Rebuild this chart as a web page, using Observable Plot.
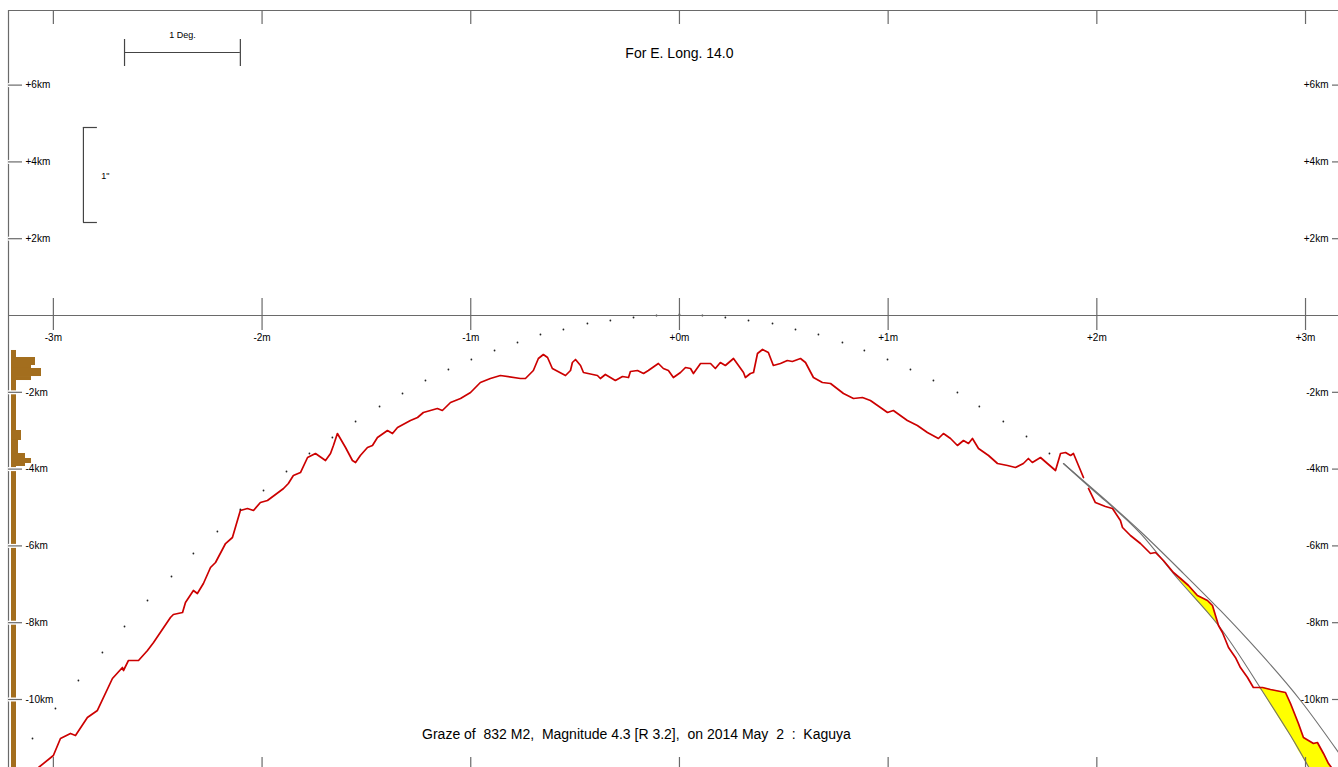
<!DOCTYPE html>
<html>
<head>
<meta charset="utf-8">
<script src="https://cdn.jsdelivr.net/npm/d3@7"></script>
<script src="https://cdn.jsdelivr.net/npm/@observablehq/plot@0.6"></script>
<style>
html, body { margin: 0; padding: 0; background: #fff; }
#chart { width: 1338px; height: 767px; overflow: hidden; }
#chart svg { display: block; }
</style>
</head>
<body>
<div id="chart"></div>
<script>
// ---- Data (x in minutes of arc from central meridian, y in km) ----
const xTicks = [-3, -2, -1, 0, 1, 2, 3];
const xTickLabels = ["-3m", "-2m", "-1m", "+0m", "+1m", "+2m", "+3m"];
const yTicks = [6, 4, 2, -2, -4, -6, -8, -10];
const yTickLabels = ["+6km", "+4km", "+2km", "-2km", "-4km", "-6km", "-8km", "-10km"];

const titleText = "For E. Long. 14.0";
const captionText = "Graze of  832 M2,  Magnitude 4.3 [R 3.2],  on 2014 May  2  :  Kaguya";

// limb profile (red), first segment
const profile1M = [-3.071,-3.000,-2.966,-2.918,-2.894,-2.837,-2.789,-2.717,-2.669,-2.664,
  -2.640,-2.592,-2.549,-2.520,-2.439,-2.425,-2.381,-2.367,-2.329,-2.310,
  -2.281,-2.247,-2.223,-2.175,-2.142,-2.104,-2.070,-2.041,-2.008,-1.974,
  -1.897,-1.874,-1.850,-1.816,-1.782,-1.744,-1.696,-1.672,-1.658,-1.639,
  -1.600,-1.567,-1.552,-1.529,-1.495,-1.471,-1.447,-1.399,-1.375,-1.351,
  -1.289,-1.255,-1.227,-1.160,-1.136,-1.097,-1.049,-1.001,-0.954,-0.906,
  -0.858,-0.762,-0.738,-0.700,-0.676,-0.652,-0.632,-0.609,-0.546,-0.522,
  -0.513,-0.498,-0.474,-0.460,-0.393,-0.379,-0.355,-0.307,-0.273,-0.244,
  -0.235,-0.201,-0.172,-0.149,-0.101,-0.077,-0.053,-0.029,0.005,0.029,
  0.053,0.067,0.101,0.149,0.172,0.196,0.220,0.259,0.283,0.307,
  0.316,0.340,0.355,0.374,0.398,0.426,0.450,0.484,0.517,0.541,
  0.580,0.604,0.642,0.685,0.724,0.786,0.834,0.877,0.915,0.963,
  0.997,1.025,1.092,1.140,1.188,1.241,1.265,1.299,1.332,1.361,
  1.385,1.404,1.433,1.481,1.524,1.572,1.610,1.648,1.672,1.691,
  1.730,1.763,1.802,1.826,1.850,1.874,1.888,1.936];
const profile1Km = [-11.771,-11.458,-11.016,-10.885,-10.938,-10.469,-10.286,-9.453,-9.167,-9.245,
  -8.984,-8.984,-8.724,-8.516,-7.865,-7.786,-7.734,-7.474,-7.161,-7.240,
  -6.979,-6.563,-6.432,-5.938,-5.781,-5.078,-5.026,-5.078,-4.870,-4.818,
  -4.505,-4.375,-4.167,-4.089,-3.698,-3.594,-3.776,-3.594,-3.385,-3.073,
  -3.438,-3.776,-3.828,-3.646,-3.438,-3.385,-3.177,-2.995,-3.073,-2.917,
  -2.734,-2.656,-2.526,-2.422,-2.474,-2.266,-2.161,-2.005,-1.745,-1.641,
  -1.563,-1.641,-1.641,-1.432,-1.120,-1.016,-1.094,-1.380,-1.563,-1.432,
  -1.224,-1.146,-1.302,-1.484,-1.563,-1.641,-1.536,-1.693,-1.589,-1.615,
  -1.458,-1.432,-1.510,-1.432,-1.250,-1.380,-1.432,-1.615,-1.484,-1.354,
  -1.380,-1.510,-1.250,-1.250,-1.380,-1.224,-1.302,-1.120,-1.302,-1.484,
  -1.615,-1.510,-1.484,-0.990,-0.885,-0.964,-1.302,-1.250,-1.172,-1.198,
  -1.120,-1.224,-1.615,-1.745,-1.771,-2.031,-2.161,-2.135,-2.214,-2.396,
  -2.526,-2.474,-2.734,-2.865,-3.047,-3.203,-3.073,-3.203,-3.385,-3.255,
  -3.333,-3.203,-3.464,-3.646,-3.854,-3.906,-3.958,-3.854,-3.724,-3.828,
  -3.698,-3.854,-4.036,-3.594,-3.568,-3.646,-3.594,-4.219];

// limb profile (red), second segment
const profile2M = [1.960,1.993,2.041,2.075,2.113,2.123,2.161,2.209,2.257,2.281,
  2.319,2.367,2.401,2.439,2.482,2.530,2.554,2.583,2.602,2.631,
  2.664,2.688,2.722,2.750,2.794,2.832,2.904,2.928,2.966,2.990,
  3.038,3.057,3.086,3.110,3.124];
const profile2Km = [-4.505,-4.870,-4.974,-5.026,-5.339,-5.521,-5.729,-5.938,-6.198,-6.172,
  -6.380,-6.693,-6.849,-7.031,-7.292,-7.422,-7.552,-8.073,-8.255,-8.646,
  -8.906,-9.167,-9.427,-9.688,-9.688,-9.740,-9.818,-10.104,-10.625,-10.990,
  -11.146,-11.120,-11.406,-11.667,-11.771];

// grey limb-correction arcs
const outerArcM = [1.840,2.017,2.209,2.401,2.592,2.784,2.976,3.158];
const outerArcKm = [-3.854,-4.688,-5.625,-6.641,-7.682,-8.802,-10.026,-11.380];
const innerArcM = [1.840,2.017,2.209,2.391,2.583,2.770,2.928,3.024];
const innerArcKm = [-3.854,-4.714,-5.677,-6.875,-8.073,-9.583,-10.938,-11.849];

// yellow zones between profile and inner arc
const yellowRegion = [1,1,1,1,1,1,1, 2,2,2,2,2,2,2,2,2,2,2,2];
const yellowM = [2.377,2.401,2.439,2.482,2.530,2.554,2.583,
  2.774,2.794,2.832,2.904,2.928,2.966,2.990,3.038,3.057,3.086,3.110,3.124];
const yellowTopKm = [-6.745,-6.849,-7.031,-7.292,-7.422,-7.552,-8.073,
  -9.688,-9.688,-9.740,-9.818,-10.104,-10.625,-10.990,-11.146,-11.120,-11.406,-11.667,-11.771];
const yellowBottomKm = [-6.745,-6.927,-7.161,-7.448,-7.734,-7.891,-8.073,
  -9.688,-9.792,-10.130,-10.755,-10.938,-11.328,-11.536,-11.979,-12.135,-12.396,-12.604,-12.734];

// dotted mean-limb line
const dotsM = [-3.100,-2.990,-2.880,-2.765,-2.659,-2.549,-2.434,-2.329,-2.214,-2.104,
  -1.993,-1.883,-1.773,-1.663,-1.552,-1.437,-1.327,-1.217,-1.107,-0.997,
  -0.886,-0.776,-0.666,-0.556,-0.441,-0.331,-0.220,-0.110,0.000,0.110,
  0.220,0.331,0.446,0.556,0.666,0.781,0.886,0.997,1.107,1.217,
  1.332,1.437,1.552,1.663,1.773];
const dotsKm = [-11.016,-10.234,-9.505,-8.776,-8.099,-7.422,-6.797,-6.198,-5.625,-5.052,
  -4.557,-4.063,-3.594,-3.177,-2.760,-2.370,-2.031,-1.693,-1.406,-1.146,
  -0.911,-0.703,-0.495,-0.365,-0.208,-0.130,-0.052,0.000,0.026,0.000,
  -0.052,-0.130,-0.208,-0.365,-0.495,-0.703,-0.911,-1.146,-1.406,-1.693,
  -2.005,-2.370,-2.760,-3.151,-3.594];

// histogram at the left edge (km bins and counts)
const histTopKm = [-0.911,-1.094,-1.302,-1.380,-1.589,-2.995,-3.255,-3.594,-3.724,-3.854];
const histBottomKm = [-11.771,-1.302,-1.380,-1.589,-1.693,-3.255,-3.594,-3.724,-3.854,-3.932];
const histCount = [5,24,20,30,20,10,7,14,20,14];

// scale annotations
const degreeBar = {m1: -2.659, m2: -2.104, km: 6.849, capTop: 7.188, capBottom: 6.484, labelKm: 7.292, label: "1 Deg."};
const arcsecBar = {m: -2.856, capM: -2.789, km1: 4.896, km2: 2.422, labelM: -2.770, labelKm: 3.620, label: "1\""};

// ---- Build ----
const xMin = -3.215, xMax = 3.158, yMin = -11.771, yMax = 7.943;
const W = 1338, H = 767, mL = 8, mT = 10;
const kx = (W - mL) / (xMax - xMin), ky = (H - mT) / (yMax - yMin);
const pxM = n => n / kx, pxKm = n => n / ky;

const profile = [
  ...profile1M.map((m, i) => ({m, km: profile1Km[i], seg: 1})),
  ...profile2M.map((m, i) => ({m, km: profile2Km[i], seg: 2}))
];
const outerArc = outerArcM.map((m, i) => ({m, km: outerArcKm[i]}));
const innerArc = innerArcM.map((m, i) => ({m, km: innerArcKm[i]}));
const yellow = yellowM.map((m, i) => ({m, top: yellowTopKm[i], bottom: yellowBottomKm[i], r: yellowRegion[i]}));
const dots = dotsM.map((m, i) => ({m, km: dotsKm[i]}));
const hist = histCount.map((c, i) => ({c, top: histTopKm[i], bottom: histBottomKm[i]}));
const xTickRows = xTicks.map((v, i) => ({v, label: xTickLabels[i]}));
const yTickRows = yTicks.map((v, i) => ({v, label: yTickLabels[i]}));

const axisColor = "#6a6a6a";
const histX0 = xMin + pxM(3);

const chart = Plot.plot({
  width: W, height: H,
  marginLeft: mL, marginTop: mT, marginRight: 0, marginBottom: 0,
  x: {domain: [xMin, xMax], axis: null},
  y: {domain: [yMin, yMax], axis: null},
  style: {fontFamily: "'Liberation Sans', Arial, sans-serif", fontSize: "10px", background: "#fff", color: "#000"},
  marks: [
    // histogram
    Plot.rect(hist, {x1: () => histX0, x2: d => histX0 + pxM(d.c), y1: "top", y2: "bottom", fill: "#a36e1e"}),
    // yellow zones
    Plot.areaY(yellow, {x: "m", y1: "bottom", y2: "top", z: "r", fill: "#ffff00", clip: true}),
    // grey arcs
    Plot.line(outerArc, {x: "m", y: "km", stroke: "#707070", strokeWidth: 1.1, curve: "natural", clip: true}),
    Plot.line(innerArc, {x: "m", y: "km", stroke: "#707070", strokeWidth: 1.1, curve: "natural", clip: true}),
    // red profile
    Plot.line(profile, {x: "m", y: "km", z: "seg", stroke: "#cc0000", strokeWidth: 1.7, strokeLinejoin: "round", clip: true}),
    // dots
    Plot.dot(dots, {x: "m", y: "km", r: 0.9, fill: "#222", stroke: null}),
    // frame lines
    Plot.ruleX([xMin], {stroke: axisColor, strokeWidth: 1.2}),
    Plot.ruleY([yMax], {stroke: axisColor, strokeWidth: 1.2}),
    Plot.ruleY([0], {stroke: axisColor, strokeWidth: 1.2}),
    // x ticks (top, middle, bottom)
    Plot.ruleX(xTicks, {x: d => d, y1: () => yMax, y2: () => yMax - pxKm(14), stroke: axisColor, strokeWidth: 1.2}),
    Plot.ruleX(xTicks, {x: d => d, y1: () => pxKm(17), y2: () => -pxKm(15), stroke: axisColor, strokeWidth: 1.2}),
    Plot.ruleX(xTicks, {x: d => d, y1: () => yMin + pxKm(10), y2: () => yMin, stroke: axisColor, strokeWidth: 1.2}),
    Plot.text(xTickRows, {x: "v", y: () => 0, dy: 22, text: "label", fontSize: 10, fill: "#000"}),
    // y ticks left
    Plot.ruleY(yTicks, {y: d => d, x1: () => xMin, x2: () => xMin + pxM(14), stroke: "#fff", strokeWidth: 4}),
    Plot.ruleY(yTicks, {y: d => d, x1: () => xMin, x2: () => xMin + pxM(14), stroke: axisColor, strokeWidth: 1.2}),
    Plot.text(yTickRows, {y: "v", frameAnchor: "left", dx: 17, text: "label", textAnchor: "start", fontSize: 10, fill: "#000"}),
    // y ticks right
    Plot.ruleY(yTicks, {y: d => d, x1: () => xMax - pxM(6), x2: () => xMax, stroke: axisColor, strokeWidth: 1.2}),
    Plot.text(yTickRows, {y: "v", frameAnchor: "right", dx: -10, text: "label", textAnchor: "end", fontSize: 10, fill: "#000"}),
    // degree scale bar
    Plot.ruleY([degreeBar], {y: "km", x1: "m1", x2: "m2", stroke: "#444", strokeWidth: 1.2}),
    Plot.ruleX([degreeBar.m1, degreeBar.m2], {x: d => d, y1: () => degreeBar.capBottom, y2: () => degreeBar.capTop, stroke: "#444", strokeWidth: 1.2}),
    Plot.text([degreeBar], {x: d => (d.m1 + d.m2) / 2, y: "labelKm", text: "label", fontSize: 9, fill: "#000"}),
    // arcsecond bracket
    Plot.ruleX([arcsecBar], {x: "m", y1: "km2", y2: "km1", stroke: "#444", strokeWidth: 1.2}),
    Plot.ruleY([arcsecBar.km1, arcsecBar.km2], {y: d => d, x1: () => arcsecBar.m, x2: () => arcsecBar.capM, stroke: "#444", strokeWidth: 1.2}),
    Plot.text([arcsecBar], {x: "labelM", y: "labelKm", text: "label", textAnchor: "start", fontSize: 9, fill: "#000"}),
    // title and caption
    Plot.text([titleText], {x: () => 0, frameAnchor: "top", dy: 38, text: d => d, fontSize: 14, fill: "#000"}),
    Plot.text([captionText], {x: () => -0.206, frameAnchor: "bottom", dy: -29, text: d => d, fontSize: 14, fill: "#000"})
  ]
});
document.getElementById("chart").appendChild(chart);
</script>
</body>
</html>
